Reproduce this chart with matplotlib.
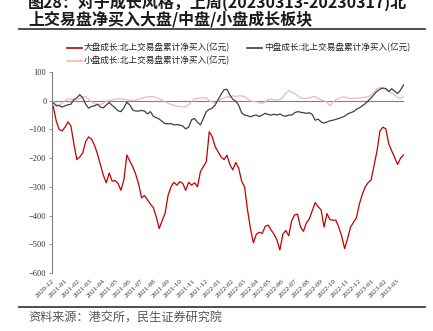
import numpy as np
import pandas as pd
import matplotlib
matplotlib.use("Agg")
import matplotlib.pyplot as plt
import matplotlib.dates as mdates
from matplotlib.lines import Line2D

plt.rcParams['font.family'] = ['Noto Sans CJK SC', 'DejaVu Sans']

# weekly samples (Fridays, 2020-12-04 .. 2023-03-17)
dates = pd.date_range('2020-12-04', periods=120, freq='7D')

large_growth = [
    -20, -70, -100, -105, -92, -74, -88, -150, -205, -196,
    -182, -142, -126, -134, -155, -185, -222, -259, -286, -252,
    -280, -278, -288, -312, -275, -189, -210, -230, -256, -290,
    -338, -330, -345, -360, -372, -405, -445, -418, -392, -330,
    -300, -284, -294, -282, -288, -312, -284, -294, -286, -300,
    -247, -230, -212, -108, -125, -160, -178, -195, -205, -190,
    -222, -241, -215, -235, -280, -300, -380, -445, -495, -465,
    -458, -462, -438, -433, -450, -465, -485, -520, -465, -452,
    -470, -418, -398, -395, -440, -455, -425, -412, -383, -355,
    -369, -380, -440, -393, -414, -416, -416, -440, -472, -515,
    -480, -440, -424, -408, -360, -326, -300, -285, -276, -225,
    -175, -105, -92, -98, -150, -175, -198, -222, -200, -189,
]

mid_growth = [
    -8, -18, -17, -22, -18, -14, -12, 4, 10, 21,
    10, -12, -26, -20, -18, -12, -22, -25, -15, -6,
    -16, -25, -35, -38, -25, -5, -15, -32, -36, -36,
    -34, -36, -46, -38, -54, -59, -64, -72, -80, -80,
    -80, -84, -83, -85, -88, -98, -92, -66, -62, -75,
    -84, -62, -38, -30, -26, -15, 4, 22, 38, 40,
    20, 5, -2, -16, -42, -50, -52, -56, -52, -50,
    -55, -50, -44, -48, -50, -47, -50, -46, -52, -54,
    -50, -50, -42, -38, -40, -42, -44, -42, -48, -68,
    -64, -74, -78, -74, -70, -68, -65, -62, -58, -54,
    -46, -42, -38, -30, -25, -18, -10, 0, 10, 22,
    33, 40, 44, 42, 32, 42, 33, 25, 37, 55,
]

small_growth = [
    -2, -12, -16, -8, 0, 6, 6, 4, 3, 7,
    13, 15, 5, -4, -10, -14, -13, -8, -2, 0,
    2, 6, 6, 6, 5, 3, 2, 2, 2, 5,
    8, 11, 13, 15, 14, 11, 7, 1, -4, -9,
    -13, -16, -19, -20, -21, -22, -14, -4, 6, 9,
    9, 11, 10, 0, -4, -8, -2, 6, 10, 13,
    14, 17, 15, 17, 17, 14, 7, 0, -3, -4,
    -7, -9, -4, 4, 6, 2, 3, 4, 12, 26,
    35, 30, 25, 17, 10, 8, 8, 9, 14, 14,
    8, 3, 0, -5, -18, -5, 4, 8, 12, 13,
    9, 8, 8, 9, 9, 11, 12, 14, 20, 30,
    42, 46, 46, 40, 33, 27, 21, 12, 8, 14,
]

labels = ['大盘成长:北上交易盘累计净买入(亿元)',
          '中盘成长:北上交易盘累计净买入(亿元)',
          '小盘成长:北上交易盘累计净买入(亿元)']
colors = ['#C00000', '#404040', '#F0B8B8']

title1 = '图28：对于成长风格，上周(20230313-20230317)北'
title2 = '上交易盘净买入大盘/中盘/小盘成长板块'
source = '资料来源：港交所，民生证券研究院'

W, H = 433, 331
fig = plt.figure(figsize=(W / 100, H / 100), dpi=100)
ax = fig.add_axes([52 / W, 1 - 273 / H, (403.5 - 52) / W, (273 - 72) / H])

ax.plot(dates, small_growth, color=colors[2], lw=0.9, zorder=2)
ax.plot(dates, mid_growth, color=colors[1], lw=0.9, zorder=3)
ax.plot(dates, large_growth, color=colors[0], lw=0.9, zorder=4)
ax.axhline(0, color='#808080', lw=0.8, zorder=1)

ax.set_ylim(-600, 100)
ax.set_yticks(np.arange(-600, 101, 100))
ax.set_xlim(pd.Timestamp('2020-12-01'), pd.Timestamp('2023-03-17'))
ax.xaxis.set_major_locator(mdates.MonthLocator())
ax.xaxis.set_major_formatter(mdates.DateFormatter('%Y-%m'))

for s in ['top', 'right', 'bottom']:
    ax.spines[s].set_visible(False)
ax.spines['left'].set_color('#808080')
ax.spines['left'].set_linewidth(0.8)

ax.tick_params(axis='y', length=2, width=0.6, color='#808080', pad=2,
               labelsize=6, labelcolor='#333333')
ax.tick_params(axis='x', length=0, pad=4, labelsize=5.2, labelcolor='#333333')
for t in ax.get_yticklabels():
    t.set_fontfamily('Liberation Serif')
for t in ax.get_xticklabels():
    t.set_fontfamily('Liberation Serif')
    t.set_rotation(45)
    t.set_ha('right')
    t.set_rotation_mode('anchor')

# legend drawn by hand
leg = [(67, 48, 0), (247, 48, 1), (67, 61, 2)]
for x0, y0, k in leg:
    fig.add_artist(Line2D([x0 / W, (x0 + 15) / W], [1 - y0 / H] * 2,
                          color=colors[k], lw=1.2))
    fig.text((x0 + 17) / W, 1 - y0 / H, labels[k], fontsize=6.2,
             va='center', ha='left', color='#222222')

# title, rules, source
fig.text(28 / W, 1 - 2 / H, title1, fontsize=11.5, fontweight='bold',
         va='center', ha='left', color='#1a1a1a')
fig.text(28 / W, 1 - 19 / H, title2, fontsize=11.5, fontweight='bold',
         va='center', ha='left', color='#1a1a1a')
fig.add_artist(Line2D([19 / W, 425 / W], [1 - 28.5 / H] * 2,
                      color='#404040', lw=1.3))
fig.add_artist(Line2D([19 / W, 425 / W], [1 - 306.5 / H] * 2,
                      color='#404040', lw=1.3))
fig.text(28 / W, 1 - 318 / H, source, fontsize=8.7, va='center', ha='left',
         color='#555555')

fig.savefig('out.png', dpi=100)
